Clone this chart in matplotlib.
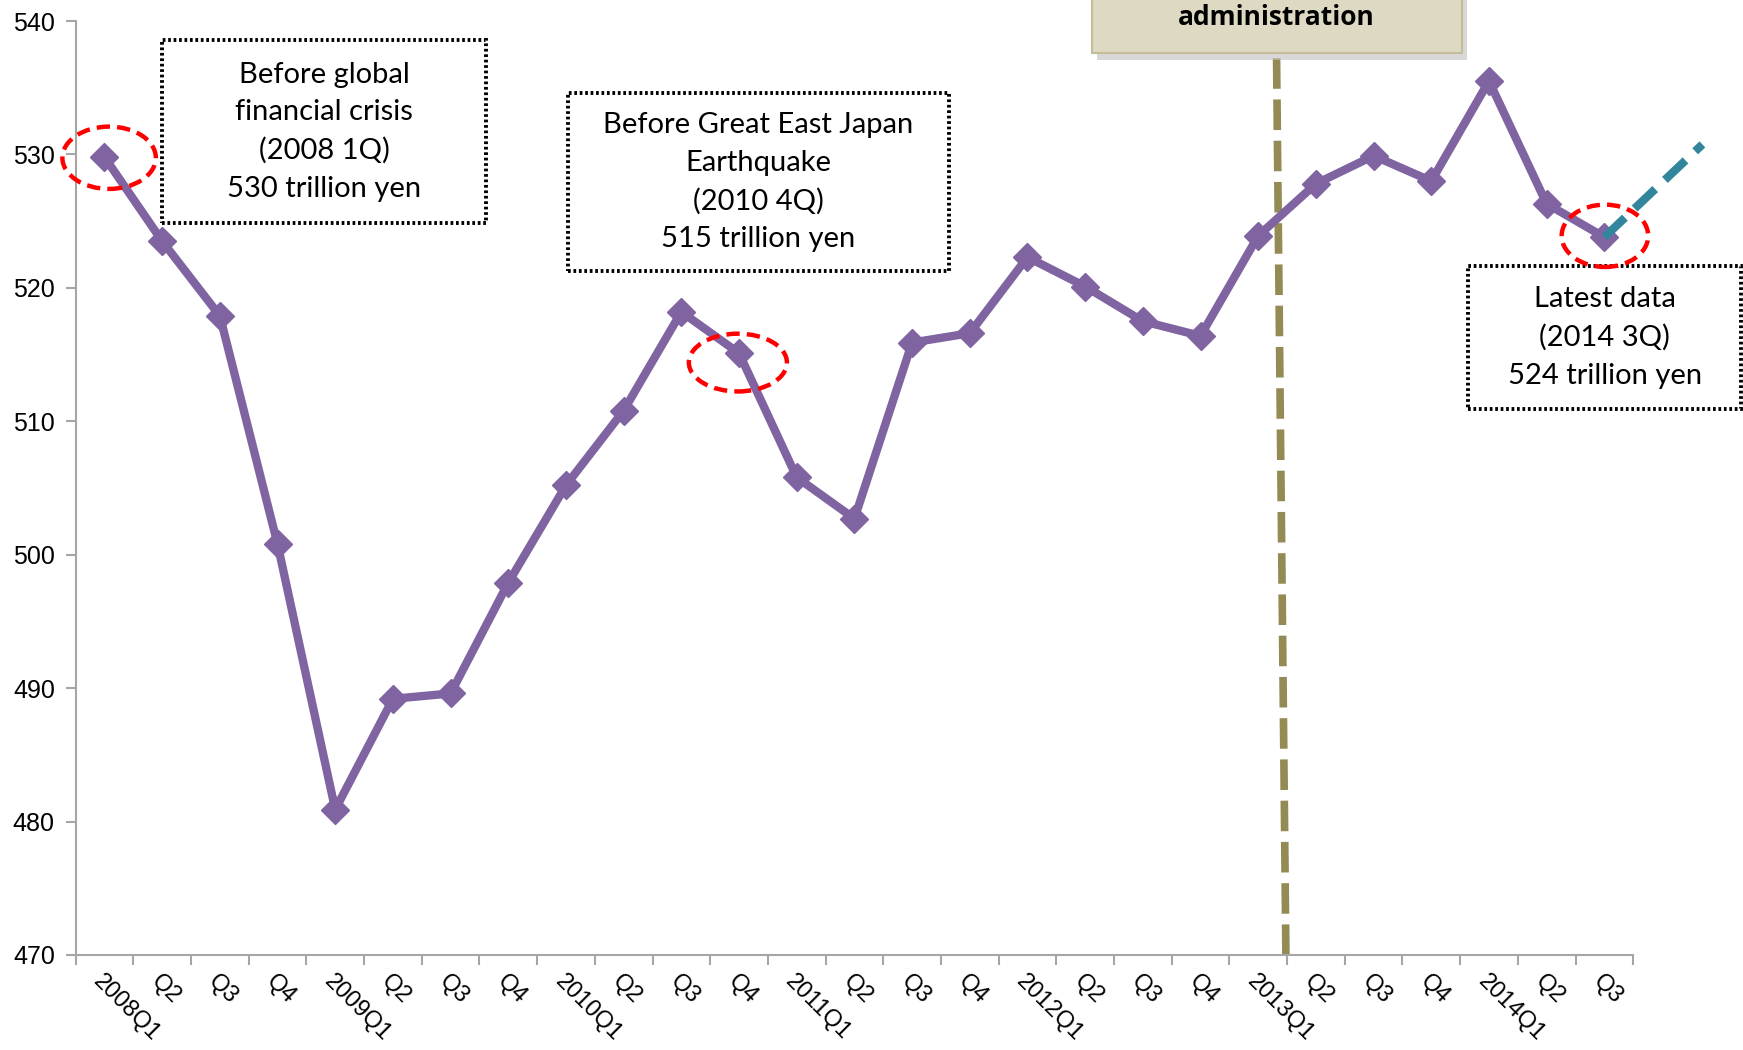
import matplotlib.pyplot as plt
from matplotlib.patches import Ellipse, Rectangle

# --- Data: quarterly real GDP (trillion yen) ---
quarters = ["2008Q1", "Q2", "Q3", "Q4",
            "2009Q1", "Q2", "Q3", "Q4",
            "2010Q1", "Q2", "Q3", "Q4",
            "2011Q1", "Q2", "Q3", "Q4",
            "2012Q1", "Q2", "Q3", "Q4",
            "2013Q1", "Q2", "Q3", "Q4",
            "2014Q1", "Q2", "Q3"]
gdp = [529.8, 523.5, 517.9, 500.8,
       480.9, 489.2, 489.6, 497.9,
       505.2, 510.8, 518.2, 515.1,
       505.8, 502.7, 515.9, 516.6,
       522.3, 520.1, 517.5, 516.4,
       523.9, 527.8, 529.9, 528.0,
       535.5, 526.3, 523.8]

# trend extension from the latest quarter
trend_x = [26.0, 27.7]
trend_y = [523.8, 530.75]

# start of the administration (between 2013Q1 and Q2)
abe_x = [20.48, 20.31]
abe_y = [470.0, 540.5]

notes = [
    # (text, box x0, x1, y0, y1)
    ("Before global\nfinancial crisis\n(2008 1Q)\n530 trillion yen", 1.0, 6.61, 524.83, 538.58),
    ("Before Great East Japan\nEarthquake\n(2010 4Q)\n515 trillion yen", 8.03, 14.64, 521.25, 534.58),
    ("Latest data\n(2014 3Q)\n524 trillion yen", 23.64, 28.37, 510.92, 521.67),
]
circles = [(0.08, 529.75, 1.62, 4.67), (10.98, 514.4, 1.70, 4.33), (26.01, 523.9, 1.50, 4.67)]

PURPLE = "#8064a2"
OLIVE = "#948a54"
TEAL = "#31859c"
GRAY = "#a6a6a6"
TICK_FONT = ["Liberation Sans Narrow", "Liberation Sans"]

fig = plt.figure(figsize=(17.43, 10.5), dpi=100)
ax = fig.add_axes([0.0434, 0.0905, 0.8936, 0.8895])

x = list(range(len(quarters)))
ax.plot(x, gdp, color=PURPLE, lw=6, marker="D", markersize=14,
        markerfacecolor=PURPLE, markeredgecolor=PURPLE, zorder=4)

ax.plot(abe_x, abe_y, color=OLIVE, lw=5.5, dashes=(4, 1.4), clip_on=False, zorder=2)
ax.plot(trend_x, trend_y, color=TEAL, lw=6, dashes=(3.4, 1.6), clip_on=False, zorder=5)

for cx, cy, w, h in circles:
    ax.add_patch(Ellipse((cx, cy), w, h, fill=False, edgecolor="#ff0000",
                         lw=3.2, ls=(0, (3, 1.6)), clip_on=False, zorder=6))

for txt, x0, x1, y0, y1 in notes:
    ax.add_patch(Rectangle((x0, y0), x1 - x0, y1 - y0, fill=True, facecolor="white",
                           edgecolor="black", lw=2.8, ls=(0, (0.7, 0.7)),
                           clip_on=False, zorder=3))
    ax.text((x0 + x1) / 2, (y0 + y1) / 2, txt, ha="center", va="center",
            fontsize=21, family="Lato", linespacing=1.55, zorder=7, clip_on=False)

ax.set_xlim(-0.5, 26.5)
ax.set_ylim(470, 540)
ax.set_yticks(range(470, 541, 10))
ax.set_xticks(x)
ax.set_xticks([i - 0.5 for i in range(len(quarters) + 1)], minor=True)
ax.set_xticklabels(quarters, rotation=-45, ha="left", rotation_mode="anchor",
                   fontsize=17, family=TICK_FONT)
ax.tick_params(axis="x", which="major", length=0, pad=11)
ax.tick_params(axis="x", which="minor", length=7, width=1.5, color=GRAY)
ax.tick_params(axis="y", length=7, width=1.5, color=GRAY, labelsize=18, pad=8)
for lab in ax.get_yticklabels():
    lab.set_family(TICK_FONT)

for side in ("top", "right"):
    ax.spines[side].set_visible(False)
for side in ("left", "bottom"):
    ax.spines[side].set_color(GRAY)
    ax.spines[side].set_linewidth(1.5)

# header box (top cut off by the figure edge)
fig.patches.append(Rectangle((0.6295, 0.9425), 0.2123, 0.10, transform=fig.transFigure,
                             facecolor="#bfbfbf", edgecolor="none", alpha=0.6, zorder=8))
fig.patches.append(Rectangle((0.6265, 0.9495), 0.2123, 0.10, transform=fig.transFigure,
                             facecolor="#ddd9c3", edgecolor="#c4bd97", lw=1.5, zorder=9))
fig.text(0.732, 0.983, "administration", ha="center", va="center", fontsize=19,
         fontweight="bold", family="Open Sans", zorder=10)

fig.savefig("out.png", dpi=100)
